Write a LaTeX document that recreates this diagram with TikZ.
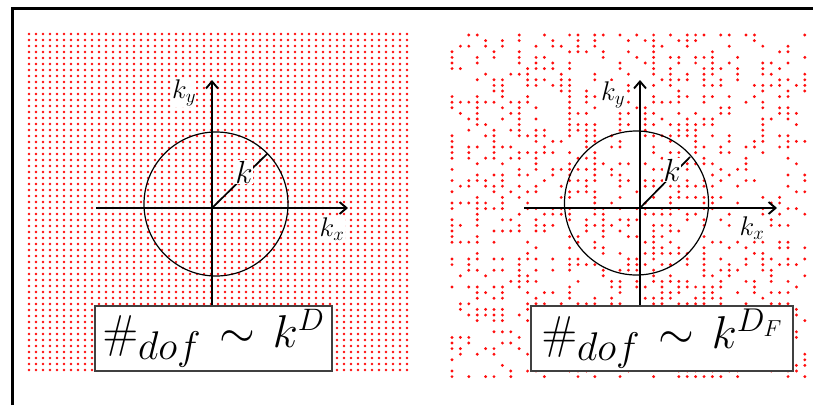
\RequirePackage{fix-cm}
\documentclass[tikz,border=0pt]{standalone}
\usetikzlibrary{arrows.meta}
\begin{document}
\begin{tikzpicture}[x=1pt,y=-1pt,
  axis/.style={line width=1.9pt, -{Straight Barb[length=7pt,width=12pt,line width=1.9pt]}},
  ring/.style={line width=1.2pt},
  rad/.style={line width=1.7pt},
  lbl/.style={inner sep=0.5pt, fill=white, font=\fontsize{27}{27}\selectfont},
  klbl/.style={inner sep=0.5pt, fill=white, font=\fontsize{32}{32}\selectfont},
  eqbox/.style={draw=black!75, line width=1.3pt, fill=white, inner sep=0pt, font=\fontsize{46}{46}\selectfont},
  dot/.style={fill=red!95!white}]
\useasboundingbox (0,0) rectangle (813,405);
\fill[white] (0,0) rectangle (813,405);
% frame
\draw[line width=3pt] (12,405) -- (12,8) -- (813,8);

% left regular grid
\foreach \i in {0,...,54}{
  \foreach \j in {0,...,56}{
    \fill[dot] (29+\i*7, 34+\j*6) circle (1.45pt);
  }
}

% right random grid
\pgfmathsetseed{4217}
\foreach \i in {0,...,42}{
  \pgfmathsetmacro\colp{0.2+0.4*rnd}
  \foreach \j in {0,...,61}{
    \pgfmathtruncatemacro\keep{rnd<\colp ? 1 : 0}
    \ifnum\keep=1 \fill[dot] (452+\i*8.4, 35+\j*5.6) circle (1.6pt);\fi
  }
}

% ---------- left panel ----------
\coordinate (oL) at (212,208);
\coordinate (xlL) at (96,208);
\coordinate (xrL) at (348,208);
\coordinate (ytL) at (212,80);
\coordinate (rL) at (267,154);
\draw[ring] (216,204) circle (72pt);
\draw[rad] (oL) -- (rL);
\draw[axis] (xlL) -- (xrL);
\node[eqbox, minimum width=237pt, minimum height=65pt] (eqL) at (213.5,338.5)
  {$\#_{\mbox{\fontsize{40}{40}\selectfont$dof$}}\mkern2mu\sim\mkern2mu k^{\mbox{\fontsize{31}{31}\selectfont$D$}}$};
\draw[axis] (oL |- eqL.north) -- (ytL);
\node[lbl] (kyL) at (184,93) {$k_y$};
\node[lbl] (kxL) at (332,229) {$k_x$};
\node[klbl] (kL) at (244,172) {$k$};

% ---------- right panel ----------
\coordinate (oR) at (640,208);
\coordinate (xlR) at (524,208);
\coordinate (xrR) at (777,208);
\coordinate (ytR) at (640,80);
\coordinate (rR) at (690,157);
\draw[ring] (636.5,203) circle (72pt);
\draw[rad] (oR) -- (rR);
\draw[axis] (xlR) -- (xrR);
\node[eqbox, minimum width=262pt, minimum height=65pt] (eqR) at (662,338.5)
  {$\#_{\mbox{\fontsize{40}{40}\selectfont$dof$}}\mkern2mu\sim\mkern2mu k^{\mbox{\fontsize{33}{33}\selectfont$D_F$}}$};
\draw[axis] (oR |- eqR.north) -- (ytR);
\node[lbl] (kyR) at (613,95) {$k_y$};
\node[lbl] (kxR) at (752,228) {$k_x$};
\node[klbl] (kR) at (672,170) {$k$};
\end{tikzpicture}
\end{document}
